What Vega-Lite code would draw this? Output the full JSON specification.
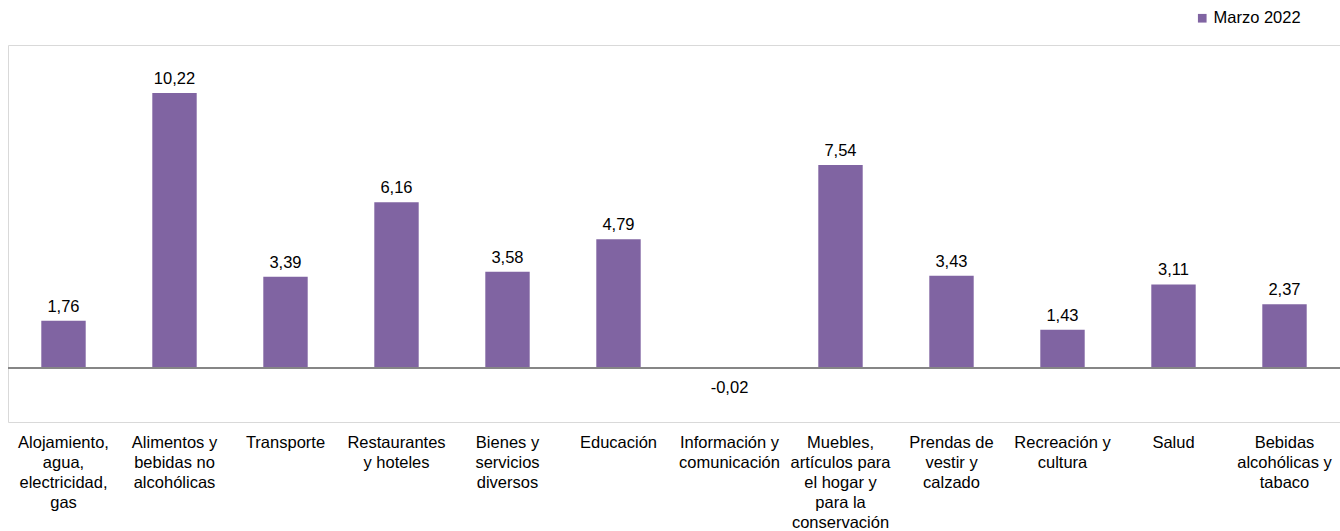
{
  "$schema": "https://vega.github.io/schema/vega-lite/v6.json",
  "width": 1332,
  "height": 377,
  "autosize": {"type": "none"},
  "padding": {"left": 8, "top": 45, "right": 0, "bottom": 109},
  "config": {
    "font": "Liberation Sans",
    "view": {"stroke": "#d9d9d9"},
    "locale": {
      "number": {"decimal": ",", "thousands": ".", "grouping": [3], "currency": ["", " €"], "minus": "-"}
    }
  },
  "data": {
    "values": [
      {"categoria": "Alojamiento,|agua,|electricidad,|gas", "valor": 1.76, "serie": "Marzo 2022"},
      {"categoria": "Alimentos y|bebidas no|alcohólicas", "valor": 10.22, "serie": "Marzo 2022"},
      {"categoria": "Transporte", "valor": 3.39, "serie": "Marzo 2022"},
      {"categoria": "Restaurantes|y hoteles", "valor": 6.16, "serie": "Marzo 2022"},
      {"categoria": "Bienes y|servicios|diversos", "valor": 3.58, "serie": "Marzo 2022"},
      {"categoria": "Educación", "valor": 4.79, "serie": "Marzo 2022"},
      {"categoria": "Información y|comunicación", "valor": -0.02, "serie": "Marzo 2022"},
      {"categoria": "Muebles,|artículos para|el hogar y|para la|conservación", "valor": 7.54, "serie": "Marzo 2022"},
      {"categoria": "Prendas de|vestir y|calzado", "valor": 3.43, "serie": "Marzo 2022"},
      {"categoria": "Recreación y|cultura", "valor": 1.43, "serie": "Marzo 2022"},
      {"categoria": "Salud", "valor": 3.11, "serie": "Marzo 2022"},
      {"categoria": "Bebidas|alcohólicas y|tabaco", "valor": 2.37, "serie": "Marzo 2022"}
    ]
  },
  "encoding": {
    "x": {
      "field": "categoria",
      "type": "nominal",
      "sort": null,
      "scale": {"paddingInner": 0.6, "paddingOuter": 0.3},
      "axis": {
        "title": null,
        "labelAngle": 0,
        "ticks": false,
        "domain": false,
        "labelPadding": 12,
        "labelBaseline": "top",
        "labelFontSize": 16.5,
        "labelLineHeight": 20,
        "labelColor": "#000000",
        "labelLimit": 0,
        "labelExpr": "split(datum.label, '|')"
      }
    },
    "y": {
      "field": "valor",
      "type": "quantitative",
      "scale": {"domain": [-2, 12], "nice": false},
      "axis": null
    }
  },
  "layer": [
    {
      "mark": {"type": "bar"},
      "encoding": {
        "color": {
          "field": "serie",
          "type": "nominal",
          "scale": {"range": ["#8064A2"]},
          "legend": {
            "title": null,
            "orient": "none",
            "legendX": 1186,
            "legendY": -35,
            "symbolType": "square",
            "symbolSize": 75,
            "symbolStrokeWidth": 0,
            "labelFontSize": 16.5,
            "labelColor": "#000000",
            "labelOffset": 3
          }
        }
      }
    },
    {
      "mark": {"type": "rule", "color": "#868686", "strokeWidth": 1.5},
      "encoding": {"y": {"datum": 0}, "x": {"value": 0}, "x2": {"value": 1332}}
    },
    {
      "transform": [{"filter": "datum.valor >= 0"}],
      "mark": {"type": "text", "baseline": "alphabetic", "dy": -9, "fontSize": 16.5, "color": "#000000"},
      "encoding": {"text": {"field": "valor", "type": "quantitative", "format": ".2f"}}
    },
    {
      "transform": [{"filter": "datum.valor < 0"}],
      "mark": {"type": "text", "baseline": "top", "dy": 11, "fontSize": 16.5, "color": "#000000"},
      "encoding": {"text": {"field": "valor", "type": "quantitative", "format": ".2f"}}
    }
  ]
}
